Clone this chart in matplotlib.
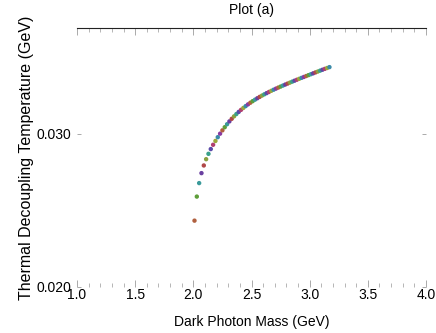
import matplotlib
matplotlib.use("Agg")
import matplotlib.pyplot as plt
from matplotlib.ticker import MultipleLocator, FixedLocator

plt.rcParams['font.family'] = ['Liberation Sans', 'DejaVu Sans']

mass = [2.01, 2.03, 2.05, 2.07, 2.09, 2.11, 2.13, 2.15, 2.17, 2.19,
        2.21, 2.23, 2.25, 2.27, 2.29, 2.31, 2.33, 2.35, 2.37, 2.39,
        2.41, 2.43, 2.45, 2.47, 2.49, 2.51, 2.53, 2.55, 2.57, 2.59,
        2.61, 2.63, 2.65, 2.67, 2.69, 2.71, 2.73, 2.75, 2.77, 2.79,
        2.81, 2.83, 2.85, 2.87, 2.89, 2.91, 2.93, 2.95, 2.97, 2.99,
        3.01, 3.03, 3.05, 3.07, 3.09, 3.11, 3.13, 3.15, 3.17]
temp = [0.02433, 0.02590, 0.02678, 0.02743, 0.02793, 0.02834, 0.02869, 0.02900, 0.02928, 0.02953,
        0.029775, 0.030005, 0.030222, 0.030427, 0.030621, 0.030805, 0.030975, 0.031135, 0.031285, 0.031426,
        0.031559, 0.031685, 0.031804, 0.031917, 0.032024, 0.032126, 0.032223, 0.032316, 0.032405, 0.03249,
        0.032572, 0.032651, 0.032727, 0.032801, 0.032873, 0.032943, 0.033011, 0.033078, 0.033144, 0.033209,
        0.033273, 0.033336, 0.033399, 0.033461, 0.033523, 0.033584, 0.033645, 0.033705, 0.033765, 0.033825,
        0.033884, 0.033943, 0.034002, 0.03406, 0.034118, 0.034176, 0.034233, 0.03429, 0.034347]

palette = ['#b0603f', '#5e9e3a', '#3a9a9a', '#6a3fa0', '#b04848',
           '#8aa040', '#3aa08a', '#5a4aa8', '#b04070', '#9aa83a',
           '#3a8aa8', '#8a3aa0']
colors = [palette[i % len(palette)] for i in range(len(mass))]

title = "Plot (a)"
xlabel = "Dark Photon Mass (GeV)"
ylabel = "Thermal Decoupling Temperature (GeV)"
xticks = [1.0, 1.5, 2.0, 2.5, 3.0, 3.5, 4.0]
yticks = [0.020, 0.030]

fig = plt.figure(figsize=(4.36, 3.33), dpi=100)
ax = fig.add_axes([77/436, 1-287/333, (426-77)/436, (287-28)/333])
ax.scatter(mass, temp, c=colors, s=10, linewidths=0, zorder=3)

ax.set_xlim(1.0, 4.0)
ax.set_ylim(0.020, 0.0369)
ax.xaxis.set_major_locator(FixedLocator(xticks))
ax.xaxis.set_minor_locator(MultipleLocator(0.1))
ax.yaxis.set_major_locator(FixedLocator(yticks))
ax.set_xticklabels([f"{v:.1f}" for v in xticks])
ax.set_yticklabels([f"{v:.3f}" for v in yticks])

for s in ['left', 'right', 'bottom']:
    ax.spines[s].set_visible(False)
ax.spines['top'].set_color('#222222')
ax.spines['top'].set_linewidth(0.8)

ax.tick_params(axis='x', which='both', direction='in', top=True, bottom=True,
               color='#aaaaaa', labelsize=10, pad=1)
ax.tick_params(axis='x', which='major', length=5, width=0.7)
ax.tick_params(axis='x', which='minor', length=3, width=0.6)
ax.tick_params(axis='y', which='both', direction='in', left=True, right=True,
               color='#aaaaaa', length=3, width=0.7, labelsize=10, pad=4)

ax.set_xlabel(xlabel, fontsize=10, labelpad=9)
ax.set_ylabel(ylabel, fontsize=11.5, labelpad=2)
ax.set_title(title, fontsize=10, pad=10)

fig.savefig("out.png", dpi=100)
